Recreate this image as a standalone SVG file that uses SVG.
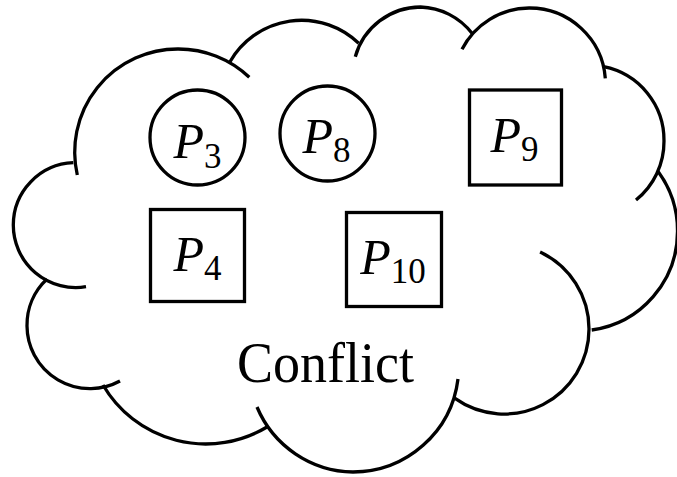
<svg xmlns="http://www.w3.org/2000/svg" width="677" height="477" viewBox="0 0 677 477">
<style>
.ln{fill:none;stroke:#000;stroke-width:3.3;stroke-linecap:butt}
.nd{fill:none;stroke:#000;stroke-width:3.3}
.lbl{font-family:"Liberation Serif","Times New Roman",serif;font-size:50px;fill:#000;text-anchor:middle}
.it{font-style:italic}
.sub{font-size:35px}
.cl{font-family:"Liberation Serif","Times New Roman",serif;font-size:56px;fill:#000}
</style>
<rect width="677" height="477" fill="#fff"/>
<g id="conflict">
<path class="ln" d="M 77.3 175 A 103 103 0 0 1 178 49 A 103 103 0 0 1 249.3 77.3"/>
<path class="ln" d="M 230 61.7 A 82.5 82.5 0 0 1 358.7 43.3"/>
<path class="ln" d="M 355.3 56.7 A 68 68 0 0 1 420.5 7 A 68 68 0 0 1 472 33.3"/>
<path class="ln" d="M 462 49.3 A 76 76 0 0 1 529 8 A 76 76 0 0 1 605.3 78.3"/>
<path class="ln" d="M 603.7 66.7 A 75 75 0 0 1 664 141 A 75 75 0 0 1 636 200"/>
<path class="ln" d="M 658.3 171.7 A 99.5 99.5 0 0 1 677.5 231 A 99.5 99.5 0 0 1 591.7 330"/>
<path class="ln" d="M 540.1 252 A 85 85 0 0 1 589 329 A 85 85 0 0 1 454.6 398.2"/>
<path class="ln" d="M 458 379 A 106 106 0 0 1 353 472 A 106 106 0 0 1 257 407"/>
<path class="ln" d="M 267 427 A 119 119 0 0 1 103 385"/>
<path class="ln" d="M 120 381 A 63 63 0 0 1 27 326 A 63 63 0 0 1 47 279"/>
<path class="ln" d="M 86 286.7 A 62.45 62.45 0 0 1 13.3 225.1 A 62.45 62.45 0 0 1 73.3 162.7"/>
<text class="cl" x="237" y="381.7" textLength="177" lengthAdjust="spacingAndGlyphs">Conflict</text>
</g>
<g id="P3">
<circle class="nd" cx="197.5" cy="137.5" r="47.5"/>
<text class="lbl" x="197.5" y="158"><tspan class="it">P</tspan><tspan class="sub" dy="10">3</tspan></text>
</g>
<g id="P8">
<circle class="nd" cx="327.5" cy="133.5" r="47.5"/>
<text class="lbl" x="326.5" y="153"><tspan class="it">P</tspan><tspan class="sub" dy="9">8</tspan></text>
</g>
<g id="P9">
<rect class="nd" x="469.5" y="90" width="92" height="95"/>
<text class="lbl" x="514.5" y="152"><tspan class="it">P</tspan><tspan class="sub" dy="9">9</tspan></text>
</g>
<g id="P4">
<rect class="nd" x="150.5" y="209.5" width="94" height="92"/>
<text class="lbl" x="197.5" y="271"><tspan class="it">P</tspan><tspan class="sub" dy="9">4</tspan></text>
</g>
<g id="P10">
<rect class="nd" x="346.5" y="212.5" width="95" height="94"/>
<text class="lbl" x="393" y="274"><tspan class="it">P</tspan><tspan class="sub" dy="9">10</tspan></text>
</g>
<g id="connectors"/>
</svg>
